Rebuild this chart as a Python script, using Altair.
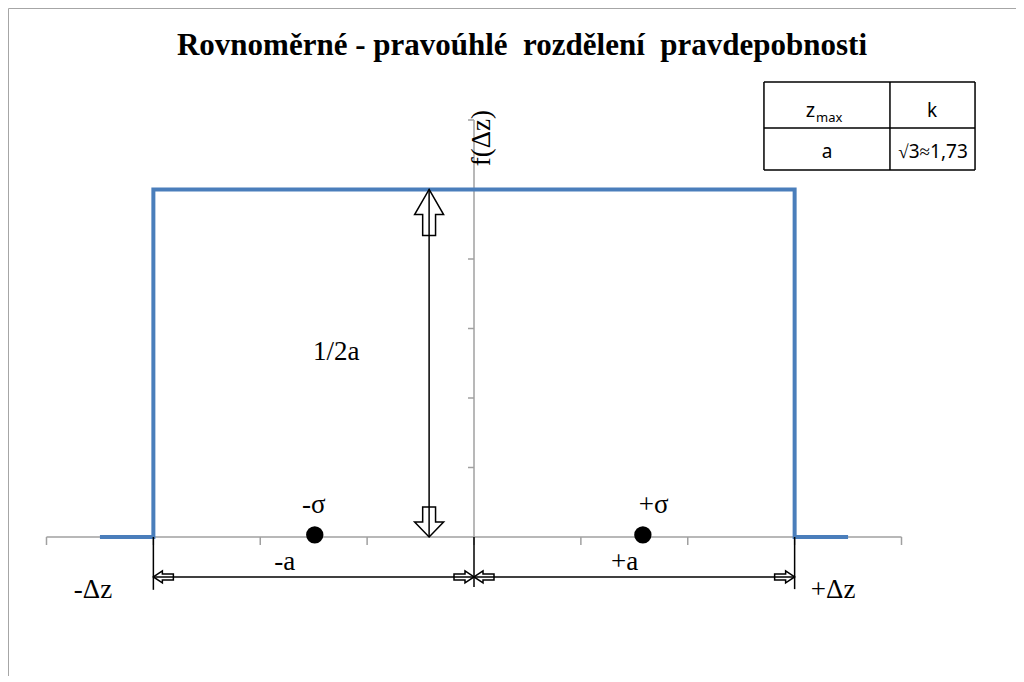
import altair as alt
import pandas as pd

# ---------------- data ----------------
# rectangular density f(dz): 0 outside [-a, a], constant inside (a = 3 units)
step_x = [-3.5, -3, -3, 3, 3, 3.5]
step_y = [0, 0, 5, 5, 0, 0]

x_ticks = [-4, -3, -2, -1, 0, 1, 2, 3, 4]
y_ticks = [1, 2, 3, 4, 5, 6]

sigma_x = [-1.49, 1.58]
sigma_y = [0.03, 0.03]

# annotation labels (serif)
label_text = ["-σ", "+σ", "-a", "+a", "-Δz", "+Δz", "1/2a"]
label_x = [-1.50, 1.68, -1.77, 1.41, -3.565, 3.36, -1.29]
label_y = [0.345, 0.345, -0.475, -0.475, -0.878, -0.878, 2.547]

title_text = "Rovnoměrné - pravoúhlé \u00a0rozdělení \u00a0pravdepobnosti"
ylabel_text = "f(Δz)"

# table cells
tab_col_x = [2.713, 3.892, 4.688]
tab_row_y = [6.547, 5.885, 5.281]
tab_text = ["k", "a", "√3≈1,73"]
tab_text_x = [4.285, 3.303, 4.295]
tab_text_y = [6.043, 5.453, 5.453]

# ---------------- scales ----------------
X = alt.Scale(domain=[-4.3602, 5.0713], nice=False, zero=False)
Y = alt.Scale(domain=[-2.0, 7.6115], nice=False, zero=False)


def xe(f="x"):
    return alt.X(f"{f}:Q", scale=X, axis=None)


def ye(f="y"):
    return alt.Y(f"{f}:Q", scale=Y, axis=None)


# gray axes and ticks
gray_rows = [dict(x=-4, x2=4, y=0, y2=0), dict(x=0, x2=0, y=0, y2=6)]
gray_rows += [dict(x=t, x2=t, y=0, y2=-0.115) for t in x_ticks]
gray_rows += [dict(x=-0.056, x2=0, y=t, y2=t) for t in y_ticks]
gray = alt.Chart(pd.DataFrame(gray_rows)).mark_rule(color="#a0a0a0", strokeWidth=1.5).encode(
    x=xe(), x2="x2:Q", y=ye(), y2="y2:Q")

# blue step line
line_df = pd.DataFrame({"i": range(len(step_x)), "x": step_x, "y": step_y})
blue = alt.Chart(line_df).mark_line(color="#4a7ebb", strokeWidth=4, strokeJoin="miter",
                                    strokeCap="butt").encode(
    x=xe(), y=ye(), order="i:Q")

# black dimension lines
black_rows = [
    dict(x=-3, x2=-3, y=0, y2=-0.76),
    dict(x=0, x2=0, y=0, y2=-0.72),
    dict(x=3, x2=3, y=0, y2=-0.75),
    dict(x=-3, x2=0, y=-0.575, y2=-0.575),
    dict(x=0, x2=3, y=-0.575, y2=-0.575),
    dict(x=-0.42, x2=-0.42, y=0, y2=5),
]
black = alt.Chart(pd.DataFrame(black_rows)).mark_rule(color="black", strokeWidth=1.5).encode(
    x=xe(), x2="x2:Q", y=ye(), y2="y2:Q")

UP = "M0,0 L0.63,1.09 L0.28,1.09 L0.28,2 L-0.28,2 L-0.28,1.09 L-0.63,1.09 Z"
DOWN = "M0,0 L0.63,-0.65 L0.28,-0.65 L0.28,-1.3 L-0.28,-1.3 L-0.28,-0.65 L-0.63,-0.65 Z"
RIGHT = "M0,0 L-0.9,-0.6 L-0.9,-0.3 L-2,-0.3 L-2,0.3 L-0.9,0.3 L-0.9,0.6 Z"
LEFT = "M0,0 L0.9,-0.6 L0.9,-0.3 L2,-0.3 L2,0.3 L0.9,0.3 L0.9,0.6 Z"


def arrows(xs, ys, shape, size):
    return alt.Chart(pd.DataFrame({"x": xs, "y": ys})).mark_point(
        shape=shape, size=size, filled=True, fill="white", stroke="black",
        strokeWidth=1.5, opacity=1).encode(x=xe(), y=ye())


arr = [
    arrows([-0.42], [5], UP, 2116),
    arrows([-0.42], [0], DOWN, 2116),
    arrows([-3, 0], [-0.575, -0.575], LEFT, 400),
    arrows([0, 3], [-0.575, -0.575], RIGHT, 400),
]

sig = alt.Chart(pd.DataFrame({"x": sigma_x, "y": sigma_y})).mark_point(
    shape="circle", size=300, filled=True, color="black", opacity=1).encode(x=xe(), y=ye())

labels = alt.Chart(pd.DataFrame({"t": label_text, "x": label_x, "y": label_y})).mark_text(
    font="Liberation Serif", fontSize=27, align="center", baseline="alphabetic", color="black"
).encode(x=xe(), y=ye(), text="t:N")

title = alt.Chart(pd.DataFrame({"t": [title_text], "x": [0.449], "y": [6.935]})).mark_text(
    font="Liberation Serif", fontSize=31, fontWeight="bold", align="center",
    baseline="alphabetic", color="black").encode(x=xe(), y=ye(), text="t:N")

ylabel = alt.Chart(pd.DataFrame({"t": [ylabel_text], "x": [0.075], "y": [5.74]})).mark_text(
    font="Liberation Serif", fontSize=27, align="center", baseline="middle", angle=270,
    color="black").encode(x=xe(), y=ye(), text="t:N")

# table
tab_rows = [dict(x=tab_col_x[0], x2=tab_col_x[2], y=r, y2=r) for r in tab_row_y]
tab_rows += [dict(x=c, x2=c, y=tab_row_y[0], y2=tab_row_y[2]) for c in tab_col_x]
table_lines = alt.Chart(pd.DataFrame(tab_rows)).mark_rule(color="black", strokeWidth=1.5).encode(
    x=xe(), x2="x2:Q", y=ye(), y2="y2:Q")

tab_txt = alt.Chart(pd.DataFrame({"t": tab_text, "x": tab_text_x, "y": tab_text_y})).mark_text(
    font="Noto Sans", fontSize=19, align="center", baseline="alphabetic", color="black"
).encode(x=xe(), y=ye(), text="t:N")

z_txt = alt.Chart(pd.DataFrame({"t": ["z"], "x": [3.191], "y": [6.043]})).mark_text(
    font="Noto Sans", fontSize=20, align="right", baseline="alphabetic", color="black"
).encode(x=xe(), y=ye(), text="t:N")
max_txt = alt.Chart(pd.DataFrame({"t": ["max"], "x": [3.20], "y": [5.971]})).mark_text(
    font="Noto Sans", fontSize=13, align="left", baseline="alphabetic", color="black"
).encode(x=xe(), y=ye(), text="t:N")

chart = alt.layer(
    gray, blue, *arr, black, sig, labels, title, ylabel, table_lines, tab_txt, z_txt, max_txt
).properties(
    width=1008, height=668, autosize=alt.AutoSizeParams(type="none"), padding=0,
    background="white"
).configure_view(stroke="#a6a6a6", strokeWidth=1)

chart.save("out.html", embed_options={"renderer": "svg", "actions": False})
